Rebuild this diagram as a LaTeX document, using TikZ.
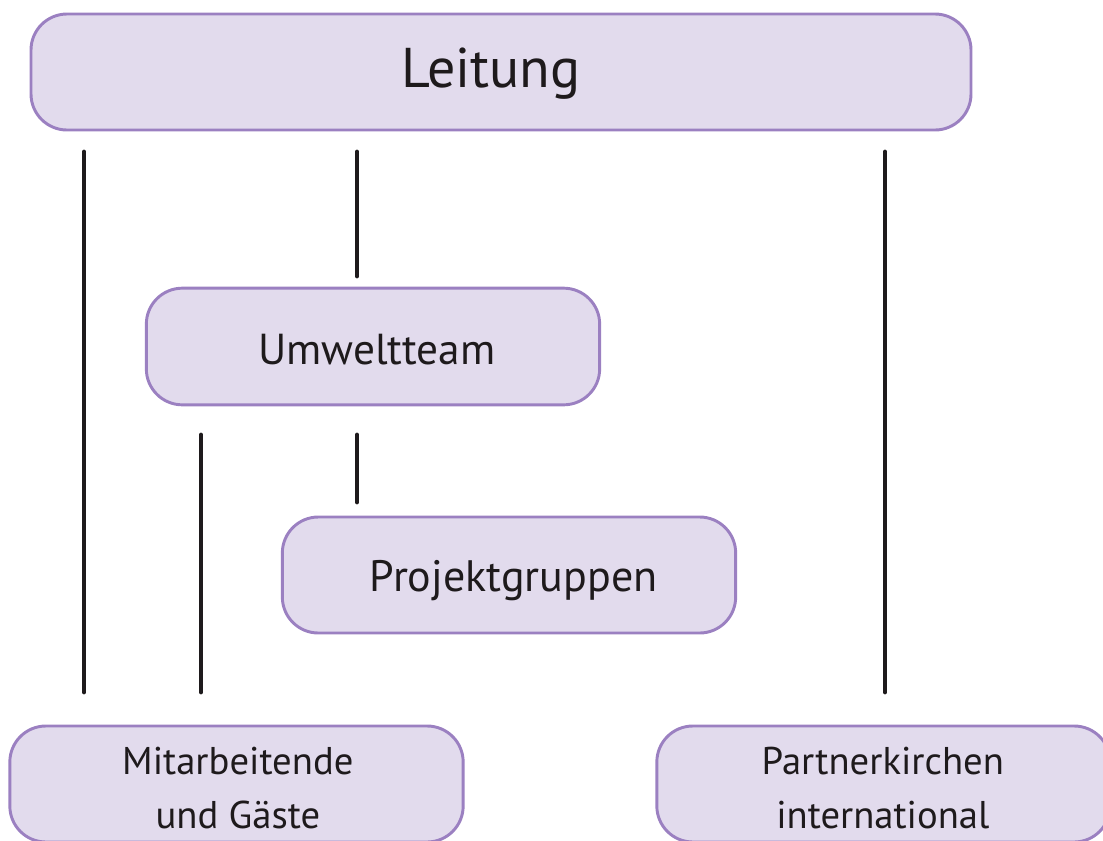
\documentclass[tikz,border=0pt]{standalone}
\usepackage{fontspec}
\setmainfont{PT Sans}
\definecolor{boxfill}{HTML}{E2DBED}
\definecolor{boxline}{HTML}{9B80C1}
\definecolor{conncol}{HTML}{1E1A1C}
\begin{document}
\begin{tikzpicture}[x=0.75pt,y=-0.75pt,
  orgbox/.style={draw=boxline,fill=boxfill,line width=2.2pt,rounded corners=27pt,
    inner sep=0pt,align=center,text=conncol},
  boxtext/.style={text=conncol,inner sep=0pt,align=center},
  conn/.style={draw=conncol,line width=3.6pt,line cap=round}]
\useasboundingbox (0,0) rectangle (1103,840);
\node[orgbox,minimum width=705pt,minimum height=87pt] (lead) at (501,72) {};
\node[boxtext,font=\fontsize{42}{46}\selectfont] (leadt) at ([xshift=-7.5pt,yshift=-1.5pt]lead.center) {Leitung};
\node[orgbox,minimum width=340pt,minimum height=87.5pt] (umw) at (373,346.5) {};
\node[boxtext,font=\fontsize{32.5}{40}\selectfont] (umwt) at ([xshift=3pt,yshift=-2.5pt]umw.center) {Umweltteam};
\node[orgbox,minimum width=340pt,minimum height=87pt] (proj) at (509,575) {};
\node[boxtext,font=\fontsize{33}{40}\selectfont] (projt) at ([xshift=3.5pt,yshift=-4pt]proj.center) {Projektgruppen};
\node[orgbox,minimum width=340pt,minimum height=87pt] (mit) at (236.5,784) {};
\node[boxtext,font=\fontsize{29}{40}\selectfont] (mitt) at ([xshift=1pt,yshift=-3pt]mit.center) {Mitarbeitende\\und Gäste};
\node[orgbox,minimum width=340pt,minimum height=87pt] (part) at (883.5,784) {};
\node[boxtext,font=\fontsize{29}{40}\selectfont] (partt) at ([xshift=-0.5pt,yshift=-3pt]part.center) {Partnerkirchen\\international};
\coordinate (a1) at (84,152); \coordinate (a2) at (84,692);
\coordinate (b1) at (357,152); \coordinate (b2) at (357,276);
\coordinate (c1) at (885,152); \coordinate (c2) at (885,692);
\coordinate (d1) at (201,435); \coordinate (d2) at (201,692);
\coordinate (e1) at (357,435); \coordinate (e2) at (357,502);
\draw[conn] (a1) -- (a2);
\draw[conn] (b1) -- (b2);
\draw[conn] (c1) -- (c2);
\draw[conn] (d1) -- (d2);
\draw[conn] (e1) -- (e2);
\end{tikzpicture}
\end{document}
